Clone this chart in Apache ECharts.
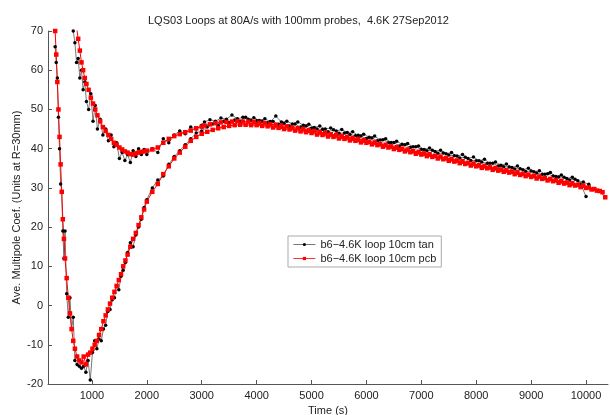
<!DOCTYPE html>
<html>
<head>
<meta charset="utf-8">
<script src="https://cdn.jsdelivr.net/npm/echarts@6/dist/echarts.min.js"></script>
<style>
  html, body { margin: 0; padding: 0; background: #fff; }
  #main { width: 610px; height: 415px; }
</style>
</head>
<body>
<div id="main"></div>
<script>
// time stamps (s) of the two branches of each loop
var lowTime = [330,350,370,390,410,430,450,470,490,510,540,570,600,630,660,690,730,770,810,850,
  890,930,970,1010,1050,1090,1130,1170,1210,1250,1290,1330,1370,1410,1450,1490,1530,1570,1610,1650,
  1700,1750,1800,1850,1900,1950,2000,2100,2200,2300,2400,2500,2600,2700,2800,2900,3000,
  3100,3200,3300,3400,3500,3600,3700,3800,3900,4000,4100,4200,4300,4400,4500,4600,4700,4800,4900,5000,
  5100,5200,5300,5400,5500,5600,5700,5800,5900,6000,6100,6200,6300,6400,6500,6600,6700,6800,6900,7000,
  7100,7200,7300,7400,7500,7600,7700,7800,7900,8000,8100,8200,8300,8400,8500,8600,8700,8800,8900,9000,
  9100,9200,9300,9400,9500,9600,9700,9800,9900,10000,10100,10200,10300];
var highTime = [660,690,720,750,780,810,840,870,900,940,980,1020,1060,1100,1150,1200,1250,1300,1350,1400,
  1450,1500,1550,1600,1650,1700,1750,1800,1850,1900,1950,2000,2100,2200,2300,2400,2500,2600,2700,2800,2900,3000,
  3050,3150,3250,3350,3450,3550,3650,3750,3850,3950,4050,4150,4250,4350,4450,4550,4650,4750,4850,4950,
  5050,5150,5250,5350,5450,5550,5650,5750,5850,5950,6050,6150,6250,6350,6450,6550,6650,6750,6850,6950,
  7050,7150,7250,7350,7450,7550,7650,7750,7850,7950,8050,8150,8250,8350,8450,8550,8650,8750,8850,8950,
  9050,9150,9250,9350,9450,9550,9650,9750,9850,9950,10050,10150,10250,10350];

// b6, 10cm tangential probe
var tanLow = [66,62,58,48,40,31,29,19,12,19,3,-3,2,-6,-3,-14,-15,-15.5,-16,-15.5,
  -17,-14,-19,-12,-9,-11,-8.5,-9,-6,-5,-1.5,-1,1.5,2,5,4,7.5,9,11,13.5,
  16,15,18,20,22,25,27,30,32,33,36,38,39.5,41,42.5,44,44.5,
  45.5,46.3,46.0,47.0,46.6,47.3,47.0,48.0,47.2,47.1,
  47.0,46.6,46.9,46.2,46.4,45.8,46.3,45.5,45.8,45.2,
  45.0,44.9,44.3,44.8,43.9,44.0,43.6,43.3,43.2,42.6,
  42.7,42.0,42.3,41.5,41.6,40.7,41.0,40.3,40.5,39.8,
  39.5,39.6,38.8,38.9,38.4,38.2,37.6,37.8,37.0,36.9,
  36.6,36.2,36.3,35.6,35.4,35.3,34.8,34.9,34.2,34.3,
  33.8,33.4,33.6,33.0,32.8,32.7,32.0,32.2,31.0,27.8,
  null,null,null];
var tanHigh = [70,67,62,63,58,60,55,57,52,50,54,47,51,45,47.5,43.5,45,42,43.5,40.5,
  41.5,37.5,39,37,38.5,36.5,39.5,38,40,38.5,39.8,38.5,40,39,42.5,41.5,43.5,44.5,43.8,45.5,45,46,
  46.8,47.4,47.0,47.8,47.5,48.6,47.6,48.0,47.5,47.9,
  47.2,47.6,46.9,48.3,46.8,47.0,46.3,46.8,46.0,46.2,
  45.4,45.8,45.0,45.3,44.5,44.9,44.1,44.3,43.4,43.7,
  42.9,43.2,42.2,42.5,41.6,41.9,41.1,41.3,40.5,40.7,
  39.8,40.2,39.3,39.6,38.7,39.0,38.1,38.5,37.5,37.9,
  36.9,37.3,36.3,36.6,35.8,36.1,35.2,35.6,34.6,35.0,
  34.1,34.4,33.5,33.9,32.9,33.3,32.4,32.7,31.8,31.5,
  30.9,null,null,null];

// b6, 10cm pcb probe
var pcbLow = [70,64,57,50,43,36,29,22,17,12,7,2,-2,-6,-9,-11,-13,-14,-14.5,-13,
  -15,-12.5,-12,-11,-10,-9,-7.5,-6,-4,-2.5,-1,0.5,2,3.5,5,6.5,8,10,11.5,13,
  15,17,18.5,20.5,22.5,24.5,26.5,29,31,33.5,35.5,37.5,39,40.5,42,43,43.8,
  44.3,44.8,45.2,45.5,45.8,46,46.1,46.1,46,46,
  45.8,45.7,45.4,45.3,45.0,44.9,44.6,44.4,44.2,44.0,
  43.6,43.5,43.1,43.0,42.6,42.5,42.1,42.0,41.6,41.5,
  41.1,40.9,40.5,40.3,39.9,39.7,39.3,39.1,38.7,38.5,
  38.1,37.9,37.5,37.3,36.9,36.7,36.3,36.1,35.7,35.5,
  35.1,35.0,34.6,34.4,34.1,33.9,33.5,33.3,33.0,32.8,
  32.4,32.3,31.9,31.7,31.3,31.1,30.7,30.6,30.2,30.0,
  29.6,29.3,28.9];
var pcbHigh = [74,73,71,68,65,62,60,58,56.5,55,53,51.5,50,48.5,47,45.5,44.5,43.5,42.5,41.5,
  41,40.3,39.8,39.3,39,38.6,38.5,38.8,39,39.2,39.3,39.5,39.8,40.3,41.5,42.5,43.2,43.7,44.2,44.6,45.2,45.6,
  45.9,46.2,46.5,46.7,46.8,46.9,47.0,46.9,46.9,46.8,
  46.6,46.5,46.2,46.1,45.8,45.7,45.4,45.2,45.0,44.7,
  44.5,44.2,44.0,43.7,43.5,43.2,43.0,42.7,42.4,42.2,
  41.8,41.6,41.2,41.0,40.6,40.4,40.0,39.8,39.4,39.2,
  38.8,38.6,38.2,38.0,37.6,37.4,37.0,36.8,36.4,36.2,
  35.8,35.6,35.3,35.1,34.7,34.5,34.2,34.0,33.6,33.4,
  33.1,32.9,32.5,32.3,32.0,31.8,31.4,31.2,30.8,30.6,
  30.1,29.7,29.2,27.6];

var xTicks = [1000,2000,3000,4000,5000,6000,7000,8000,9000,10000];
var tanName = 'b6\u22124.6K loop 10cm tan';
var pcbName = 'b6\u22124.6K loop 10cm pcb';

function pairs(t, v) {
  var out = [];
  for (var i = 0; i < t.length; i++) {
    if (v[i] != null) out.push([t[i], v[i]]);
  }
  return out;
}

function tanSeries(data) {
  return {
    name: tanName, type: 'line', data: data,
    symbol: 'circle', symbolSize: 3.5, showAllSymbol: true,
    itemStyle: { color: '#000' },
    lineStyle: { color: '#555', width: 0.8 },
    animation: false
  };
}
function pcbSeries(data) {
  return {
    name: pcbName, type: 'line', data: data,
    symbol: 'rect', symbolSize: 4.5, showAllSymbol: true,
    itemStyle: { color: '#ff0000' },
    lineStyle: { color: '#ff0000', width: 1 },
    animation: false
  };
}

var font = 'Liberation Sans, Arial, sans-serif';
var chart = echarts.init(document.getElementById('main'));
chart.setOption({
  backgroundColor: '#fff',
  textStyle: { fontFamily: font },
  title: {
    text: 'LQS03 Loops at 80A/s with 100mm probes,  4.6K 27Sep2012',
    left: 143, top: 10,
    textStyle: { fontSize: 11, fontWeight: 'normal', color: '#222', fontFamily: font }
  },
  legend: {
    orient: 'vertical', left: 288, top: 236,
    data: [tanName, pcbName],
    backgroundColor: '#fff', borderColor: '#aaa', borderWidth: 1,
    padding: [3, 5], itemGap: 3, itemWidth: 22, itemHeight: 4,
    lineStyle: { width: 0.8 },
    textStyle: { fontSize: 11, color: '#222', fontFamily: font }
  },
  grid: { left: 48, right: 2, top: 31, bottom: 31, containLabel: false, outerBoundsMode: 'none' },
  xAxis: {
    type: 'value', min: 200, max: 10400,
    name: 'Time (s)', nameLocation: 'middle', nameGap: 20,
    nameTextStyle: { fontSize: 11, color: '#222' },
    axisLine: { onZero: false, lineStyle: { color: '#555' } },
    axisTick: { inside: true, length: 4, customValues: xTicks, lineStyle: { color: '#555' } },
    axisLabel: {
      customValues: xTicks, fontSize: 11, color: '#222', margin: 6,
      formatter: function (v) { return String(v); }
    },
    splitLine: { show: false }
  },
  yAxis: {
    type: 'value', min: -20, max: 70, interval: 10,
    name: 'Ave. Multipole Coef. (Units at R=30mm)', nameLocation: 'middle',
    nameGap: 26, nameMoveOverlap: false,
    nameTextStyle: { fontSize: 11, color: '#222' },
    axisLine: { show: true, onZero: false, lineStyle: { color: '#555' } },
    axisTick: { show: true, inside: true, length: 4, lineStyle: { color: '#555' } },
    axisLabel: { fontSize: 11, color: '#222', margin: 5 },
    splitLine: { show: false }
  },
  series: [
    tanSeries(pairs(lowTime, tanLow)),
    tanSeries(pairs(highTime, tanHigh)),
    pcbSeries(pairs(lowTime, pcbLow)),
    pcbSeries(pairs(highTime, pcbHigh))
  ]
});
</script>
</body>
</html>
